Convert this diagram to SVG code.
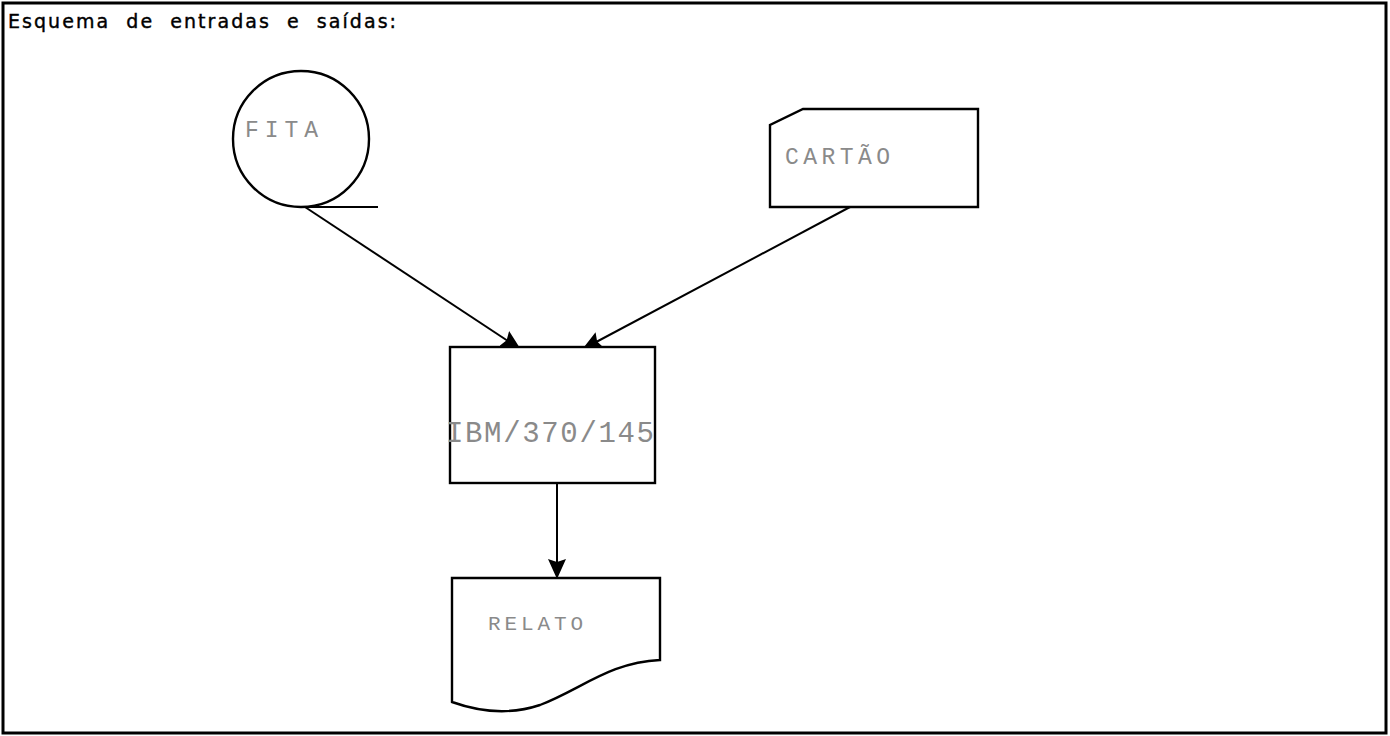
<svg xmlns="http://www.w3.org/2000/svg" width="1390" height="736" viewBox="0 0 1390 736">
<defs>
<style>
.ln{fill:none;stroke:#000;stroke-width:2}
.sh{fill:#fff;stroke:#000;stroke-width:2.4}
.lbl{font-family:"Liberation Mono",monospace;fill:#8a8a8a;}
.title{font-family:"DejaVu Sans","Liberation Sans",sans-serif;font-size:19px;fill:#000;stroke:#000;stroke-width:0.4;word-spacing:8px}
</style>
<marker id="ahb" markerWidth="20" markerHeight="18" refX="19" refY="9" orient="auto" markerUnits="userSpaceOnUse">
<path d="M0,0 L20,9 L0,18 L3,9 Z" fill="#000"/>
</marker>
</defs>
<rect x="3" y="3" width="1383" height="730" fill="#fff" stroke="#000" stroke-width="3"/>
<text class="title" x="8" y="28" textLength="388" lengthAdjust="spacing">Esquema de entradas e saídas:</text>
<g id="connectors">
<path class="ln" d="M305,207 L520,349" marker-end="url(#ahb)"/>
<path class="ln" d="M850,207 L583,349" marker-end="url(#ahb)"/>
<path class="ln" d="M557,483 L557,578" marker-end="url(#ahb)"/>
</g>
<g id="fita">
<circle class="sh" cx="301" cy="139" r="68"/>
<line class="ln" x1="300" y1="207" x2="378" y2="207"/>
<text class="lbl" x="245" y="137" font-size="23" textLength="73" lengthAdjust="spacing">FITA</text>
</g>
<g id="cartao">
<path class="sh" d="M803,109 L978,109 L978,207 L770,207 L770,125 Z"/>
<text class="lbl" x="785" y="164" font-size="23" textLength="105" lengthAdjust="spacing">CARTÃO</text>
</g>
<g id="processo">
<rect class="sh" x="450" y="347" width="205" height="136"/>
<text class="lbl" x="446" y="442" font-size="29" textLength="208" lengthAdjust="spacing">IBM/370/145</text>
</g>
<g id="relatorio">
<path class="sh" d="M452,578 L660,578 L660,660 C610,662 580,690 540,705 C510,715 480,712 452,702 Z"/>
<text class="lbl" x="488" y="630" font-size="21" textLength="95" lengthAdjust="spacing">RELATO</text>
</g>
</svg>
